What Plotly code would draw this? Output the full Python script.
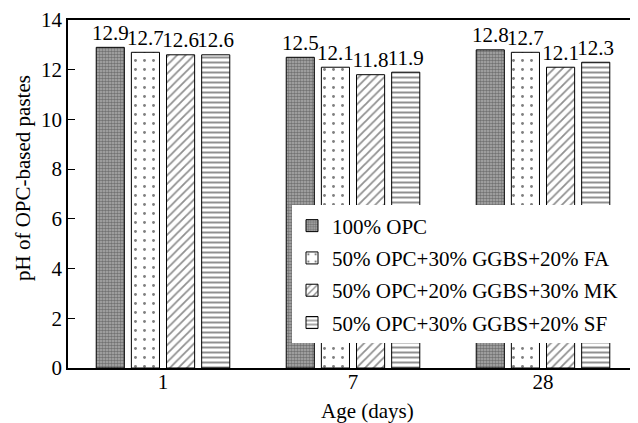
import plotly.graph_objects as go

ages = ["1", "7", "28"]
series_names = [
    "100% OPC",
    "50% OPC+30% GGBS+20% FA",
    "50% OPC+20% GGBS+30% MK",
    "50% OPC+30% GGBS+20% SF",
]
opc100 = [12.9, 12.5, 12.8]
opc_fa = [12.7, 12.1, 12.7]
opc_mk = [12.6, 11.8, 12.1]
opc_sf = [12.6, 11.9, 12.3]
y_ticks = [0, 2, 4, 6, 8, 10, 12, 14]

FONT = "Liberation Serif, Times New Roman, Times, serif"
values = [opc100, opc_fa, opc_mk, opc_sf]
patterns = [
    dict(shape=".", size=3, solidity=0.6, fgcolor="#333333", bgcolor="#b0b0b0"),
    dict(shape=".", size=9, solidity=0.08, fgcolor="#000000", bgcolor="white"),
    dict(shape="/", size=6, solidity=0.3, fgcolor="#222222", bgcolor="white"),
    dict(shape="-", size=5, solidity=0.4, fgcolor="#222222", bgcolor="white"),
]

fig = go.Figure()
for i, (name, vals, pat) in enumerate(zip(series_names, values, patterns)):
    fig.add_trace(go.Bar(
        x=ages, y=vals, name=name,
        marker=dict(color="white", pattern=pat, line=dict(color="black", width=1)),
        legendgroup=f"g{i}",
    ))
# value labels above bars (grouped scatter text, aligned with bars)
for i, vals in enumerate(values):
    fig.add_trace(go.Scatter(
        x=ages, y=vals, mode="markers+text",
        text=[f"{v:.1f}" for v in vals],
        textposition="top center",
        textfont=dict(family=FONT, size=21, color="black"),
        marker=dict(size=2, color="rgba(0,0,0,0)"),
        cliponaxis=False, showlegend=False, hoverinfo="skip",
        legendgroup=f"g{i}",
    ))

# the page body has an 8px default margin; the figure is sized/margined to compensate
fig.update_layout(
    width=630, height=415,
    margin=dict(l=60, r=0, t=10, b=55),
    paper_bgcolor="white", plot_bgcolor="white",
    barmode="group", bargap=0.26, bargroupgap=0.2,
    scattermode="group", scattergap=0.26,
    font=dict(family=FONT, size=21, color="black"),
    showlegend=True,
    legend=dict(
        x=0.393, y=0.467, xanchor="left", yanchor="top",
        bgcolor="white", borderwidth=0,
        font=dict(family=FONT, size=21, color="black"),
        tracegroupgap=2, itemwidth=30,
    ),
    xaxis=dict(
        type="category", range=[-0.5, 2.5],
        showline=True, linecolor="black", linewidth=1.5, mirror=True,
        ticks="", showgrid=False, zeroline=False,
        ticklabelstandoff=-6,
        tickfont=dict(family=FONT, size=21),
    ),
    yaxis=dict(
        range=[0, 14], tickvals=y_ticks,
        showline=True, linecolor="black", linewidth=1.5,
        ticks="inside", ticklen=7, tickcolor="black", tickwidth=1,
        showgrid=False, zeroline=False,
        ticklabeloverflow="allow",
        tickfont=dict(family=FONT, size=21),
    ),
    annotations=[
        dict(
            text="pH of OPC-based pastes", textangle=-90,
            xref="paper", yref="paper", x=-0.079, y=0.546,
            xanchor="center", yanchor="middle", showarrow=False,
            font=dict(family=FONT, size=21, color="black"),
        ),
        dict(
            text="Age (days)",
            xref="paper", yref="paper", x=0.525, y=-0.123,
            xanchor="center", yanchor="middle", showarrow=False,
            font=dict(family=FONT, size=21, color="black"),
        ),
    ],
)

fig.write_html("out.html")
